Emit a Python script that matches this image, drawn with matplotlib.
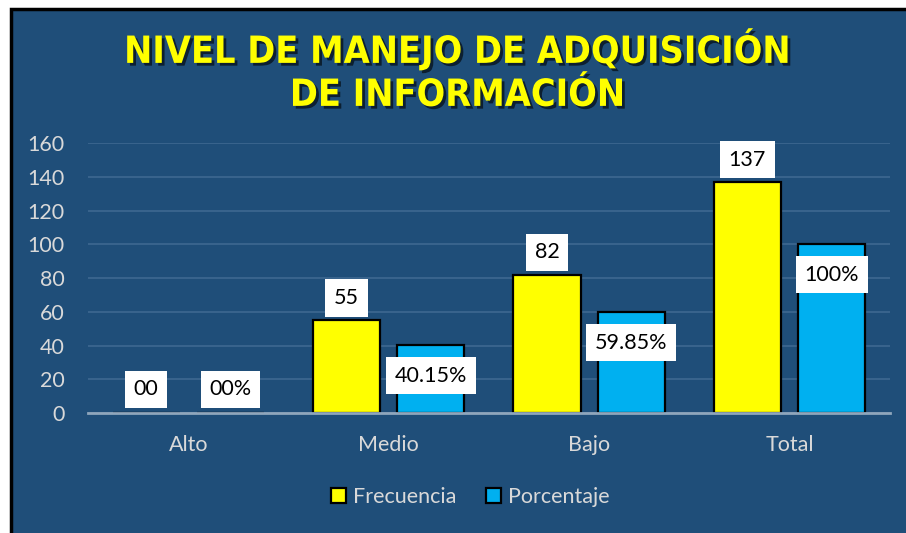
import matplotlib.pyplot as plt
import matplotlib.patheffects as pe
from matplotlib.patches import Rectangle, Patch
import numpy as np

# chart data
categorias = ["Alto", "Medio", "Bajo", "Total"]
frecuencia = [0, 55, 82, 137]
porcentaje = [0, 40.15, 59.85, 100]
etiq_frec = ["00", "55", "82", "137"]
etiq_porc = ["00%", "40.15%", "59.85%", "100%"]
yticks = [0, 20, 40, 60, 80, 100, 120, 140, 160]

fondo = "#1F4E79"
amarillo = "#FFFF00"
celeste = "#00B0F0"
gris = "#D9D9D9"

plt.rcParams['font.family'] = ['Lato', 'DejaVu Sans']

fig = plt.figure(figsize=(9.06, 5.33), dpi=100)
fig.patch.set_facecolor("white")

# dark panel with black border
fig.patches.append(Rectangle((0.0121, -0.1), 1.1, 0.9822 + 0.1, transform=fig.transFigure,
                             facecolor=fondo, edgecolor="black", linewidth=2.5, zorder=-1))

ax = fig.add_axes([0.0971, 0.2251, 0.885, 0.5066])
ax.set_zorder(2)
ax.patch.set_alpha(0)

x = np.arange(len(categorias))
ancho = 0.335
desp = 0.21

b1 = ax.bar(x - desp, frecuencia, ancho, color=amarillo, edgecolor="black", linewidth=1.6, zorder=3)
b2 = ax.bar(x + desp, porcentaje, ancho, color=celeste, edgecolor="black", linewidth=1.6, zorder=3)

caja = dict(boxstyle="square,pad=0.4", facecolor="white", edgecolor="none")
for xi, v, t in zip(x - desp, frecuencia, etiq_frec):
    off = 17 if v == 0 else 16
    ax.annotate(t, (xi, v), xytext=(0, off), textcoords="offset points", ha="center", va="center",
                fontsize=15.5, color="black", bbox=caja, zorder=5)
for xi, v, t in zip(x + desp, porcentaje, etiq_porc):
    off = 17 if v == 0 else -22
    ax.annotate(t, (xi, v), xytext=(0, off), textcoords="offset points", ha="center", va="center",
                fontsize=15.5, color="black", bbox=caja, zorder=5)

ax.set_xlim(-0.5, 3.5)
ax.set_ylim(0, 160)
ax.set_yticks(yticks)
ax.set_xticks(x)
ax.set_xticklabels(categorias)
ax.tick_params(axis="both", length=0, colors=gris, labelsize=15.5)
ax.tick_params(axis="x", pad=16)
ax.tick_params(axis="y", pad=17)
ax.grid(axis="y", color="#3E6890", linewidth=1.2, zorder=0)
for s in ["top", "right", "left"]:
    ax.spines[s].set_visible(False)
ax.spines["bottom"].set_color("#8FA6BC")
ax.spines["bottom"].set_linewidth(2)
ax.spines["bottom"].set_zorder(4)

# title
fig.text(0.505, 0.867, "NIVEL DE MANEJO DE ADQUISICIÓN\nDE INFORMACIÓN", ha="center", va="center",
         fontsize=27, fontweight="bold", color=amarillo, linespacing=1.25,
         family=["DejaVu Sans"], fontstretch="condensed",
         path_effects=[pe.withSimplePatchShadow(offset=(2, -2), shadow_rgbFace="black", alpha=0.6)])

# legend
handles = [Patch(facecolor=amarillo, edgecolor="black", linewidth=1.6, label="Frecuencia"),
           Patch(facecolor=celeste, edgecolor="black", linewidth=1.6, label="Porcentaje")]
fig.legend(handles=handles, loc="center", bbox_to_anchor=(0.519, 0.0675), ncol=2, frameon=False,
           handlelength=0.7, handleheight=0.7, handletextpad=0.3, columnspacing=1.4,
           fontsize=15.5, labelcolor=gris)

fig.savefig("out.png", dpi=100)
